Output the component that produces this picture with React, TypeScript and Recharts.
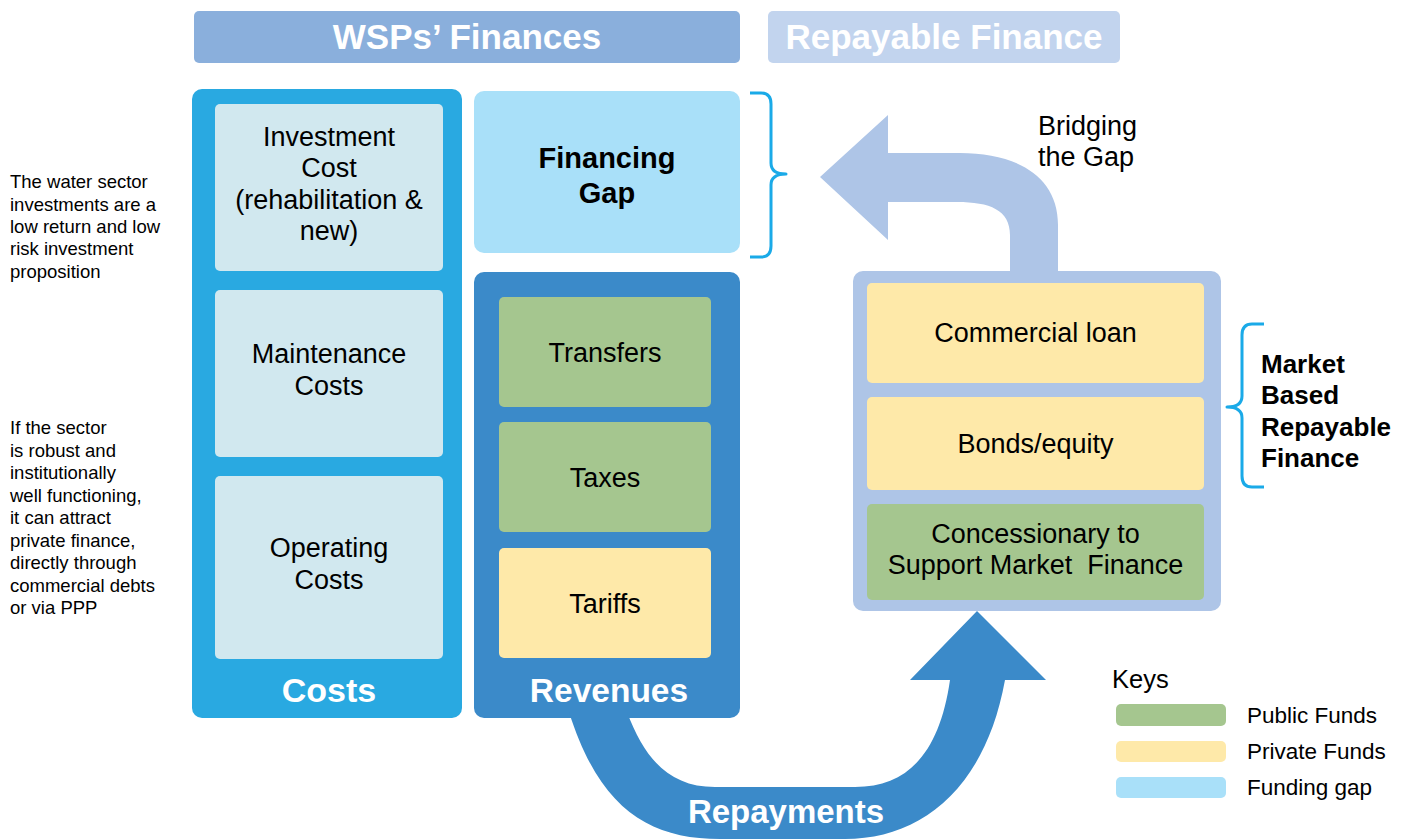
import React from 'react';
import { ComposedChart, XAxis, YAxis, ReferenceArea, Scatter } from 'recharts';

const W = 1406;
const H = 839;
const FONT = '"Liberation Sans", Arial, Helvetica, sans-serif';

// ---- texts ----
const headerTitles = ['WSPs’ Finances', 'Repayable Finance'];
const costItems = [
  ['Investment', 'Cost', '(rehabilitation &', 'new)'],
  ['Maintenance', 'Costs'],
  ['Operating', 'Costs'],
];
const revenueItems = [['Transfers'], ['Taxes'], ['Tariffs']];
const gapLabel = ['Financing', 'Gap'];
const repayableItems = [['Commercial loan'], ['Bonds/equity'], ['Concessionary to', 'Support Market  Finance']];
const marketLabel = ['Market', 'Based', 'Repayable', 'Finance'];
const bridgingLabel = ['Bridging', 'the Gap'];
const repaymentsLabel = 'Repayments';
const noteLowReturn = ['The water sector', 'investments are a', 'low return and low', 'risk investment', 'proposition'];
const noteRobust = [
  'If the sector',
  'is robust and',
  'institutionally',
  'well functioning,',
  'it can attract',
  'private finance,',
  'directly through',
  'commercial debts',
  'or via PPP',
];
const keyLabels = ['Public Funds', 'Private Funds', 'Funding gap'];

// ---- colours ----
const C = {
  header1: '#8aafdc',
  header2: '#c2d4ee',
  costs: '#29a9e1',
  costItem: '#d1e8ef',
  gap: '#a9e0f9',
  revenues: '#3b8ac9',
  green: '#a5c68f',
  yellow: '#fee9a9',
  repayable: '#aec5e7',
  brace: '#1aaae8',
};
const revenueFills = [C.green, C.green, C.yellow];
const repayableFills = [C.yellow, C.yellow, C.green];
const keyFills = [C.green, C.yellow, C.gap];

// ---- layout in diagram units [x1, x2, y1, y2] ----
const headerBoxes = [[194, 740, 11, 63], [768, 1120, 11, 63]];
const costsOuter = [192, 462, 89, 718];
const costBoxes = [[215, 443, 104, 271], [215, 443, 290, 457], [215, 443, 476, 659]];
const gapBox = [474, 740, 91, 253];
const revenuesOuter = [474, 740, 272, 718];
const revenueBoxes = [[499, 711, 297, 407], [499, 711, 422, 532], [499, 711, 548, 658]];
const repayableOuter = [853, 1221, 271, 611];
const repayableBoxes = [[867, 1204, 283, 383], [867, 1204, 397, 490], [867, 1204, 504, 600]];
const keySwatches = [[1116, 1226, 704, 726], [1116, 1226, 741, 762], [1116, 1226, 777, 798]];
const repaymentsAnchor = [{ x: 786, y: 811 }];

type Seg = [string, number[]];

// arrow outlines and braces (diagram units)
const repaymentArrow: Seg[] = [
  ['M', [569, 712]],
  ['C', [600, 810, 650, 839, 720, 839]],
  ['L', [845, 839]],
  ['C', [920, 839, 985, 790, 1005, 680]],
  ['L', [1046, 680]],
  ['L', [977, 611]],
  ['L', [910, 680]],
  ['L', [950, 680]],
  ['C', [940, 750, 910, 787, 855, 787]],
  ['L', [715, 787]],
  ['C', [670, 787, 645, 760, 627, 712]],
];
const bridgingArrow: Seg[] = [
  ['M', [1058, 276]],
  ['L', [1058, 225]],
  ['C', [1058, 175, 1015, 153, 960, 153]],
  ['L', [888, 153]],
  ['L', [888, 115]],
  ['L', [820, 177]],
  ['L', [888, 240]],
  ['L', [888, 202]],
  ['L', [957, 202]],
  ['C', [990, 202, 1010, 210, 1010, 235]],
  ['L', [1010, 276]],
];
const gapBrace: Seg[] = [
  ['M', [750, 93]],
  ['L', [761, 93]],
  ['Q', [771, 93, 771, 104]],
  ['L', [771, 163]],
  ['Q', [771, 174, 786, 174]],
  ['Q', [771, 174, 771, 185]],
  ['L', [771, 246]],
  ['Q', [771, 257, 761, 257]],
  ['L', [750, 257]],
];
const marketBrace: Seg[] = [
  ['M', [1264, 324]],
  ['L', [1252, 324]],
  ['Q', [1242, 324, 1242, 335]],
  ['L', [1242, 396]],
  ['Q', [1242, 407, 1227, 407]],
  ['Q', [1242, 407, 1242, 418]],
  ['L', [1242, 476]],
  ['Q', [1242, 487, 1252, 487]],
  ['L', [1264, 487]],
];

const toPoints = (segs: Seg[]) =>
  segs.flatMap(([, n]) => {
    const out: { x: number; y: number }[] = [];
    for (let i = 0; i < n.length; i += 2) out.push({ x: n[i], y: n[i + 1] });
    return out;
  });

const pathLine = (segs: Seg[], fill: string, stroke: string, sw: number, closed: boolean) => (props: any) => {
  const pts = props.points || [];
  let k = 0;
  let d = '';
  segs.forEach(([c, n]) => {
    const ps: string[] = [];
    for (let i = 0; i < n.length; i += 2) {
      const p = pts[k++];
      if (p) ps.push(`${p.x},${p.y}`);
    }
    d += c + ps.join(' ') + ' ';
  });
  if (closed) d += 'Z';
  return <path d={d} fill={fill} stroke={stroke} strokeWidth={sw} strokeLinejoin="round" />;
};

type TextOpts = { size: number; bold?: boolean; color?: string; anchor?: 'start' | 'middle'; lh: number; dy?: number };

const textBlock = (lines: string[], o: TextOpts) => (props: any) => {
  const { x, y, width, height } = props.viewBox;
  const anchor = o.anchor || 'middle';
  const cx = anchor === 'start' ? x : x + width / 2;
  const cy = y + height / 2 + (o.dy || 0);
  const top = cy - ((lines.length - 1) * o.lh) / 2 + o.size * 0.35;
  return (
    <text
      textAnchor={anchor}
      fontFamily={FONT}
      fontSize={o.size}
      fontWeight={o.bold ? 700 : 400}
      fill={o.color || '#000'}
      style={{ whiteSpace: 'pre' }}
    >
      {lines.map((l, i) => (
        <tspan key={i} x={cx} y={top + i * o.lh}>
          {l}
        </tspan>
      ))}
    </text>
  );
};

const box = (key: string, r: number[], fill: string, radius: number, label?: any) => (
  <ReferenceArea
    key={key}
    x1={r[0]}
    x2={r[1]}
    y1={r[2]}
    y2={r[3]}
    ifOverflow="visible"
    fill={fill}
    fillOpacity={1}
    stroke="none"
    shape={(p: any) => <rect x={p.x} y={p.y} width={p.width} height={p.height} rx={radius} ry={radius} fill={fill} />}
    label={label}
  />
);

const textArea = (key: string, r: number[], label: any) => (
  <ReferenceArea
    key={key}
    x1={r[0]}
    x2={r[1]}
    y1={r[2]}
    y2={r[3]}
    ifOverflow="visible"
    fillOpacity={0}
    stroke="none"
    shape={() => <g />}
    label={label}
  />
);

const pathSeries = (key: string, segs: Seg[], fill: string, stroke: string, sw: number, closed: boolean) => (
  <Scatter
    key={key}
    data={toPoints(segs)}
    isAnimationActive={false}
    shape={() => <g />}
    line={pathLine(segs, fill, stroke, sw, closed)}
    legendType="none"
  />
);

export default function App() {
  return (
    <div style={{ position: 'absolute', left: 0, top: 0, width: W, height: H, background: '#fff' }}>
      <ComposedChart width={W} height={H} margin={{ top: 0, right: 0, bottom: 0, left: 0 }}>
        <XAxis type="number" dataKey="x" domain={[0, W]} allowDataOverflow hide />
        <YAxis type="number" dataKey="y" domain={[0, H]} allowDataOverflow reversed hide />

        {pathSeries('repay', repaymentArrow, C.revenues, 'none', 0, true)}
        {pathSeries('bridge', bridgingArrow, C.repayable, 'none', 0, true)}
        {pathSeries('brace1', gapBrace, 'none', C.brace, 3, false)}
        {pathSeries('brace2', marketBrace, 'none', C.brace, 3, false)}
        <Scatter
          data={repaymentsAnchor}
          isAnimationActive={false}
          legendType="none"
          shape={(p: any) => (
            <text
              x={p.cx}
              y={p.cy + 33 * 0.35}
              textAnchor="middle"
              fontFamily={FONT}
              fontSize={33}
              fontWeight={700}
              fill="#fff"
            >
              {repaymentsLabel}
            </text>
          )}
        />

        {headerBoxes.map((r, i) =>
          box(`h${i}`, r, i === 0 ? C.header1 : C.header2, 5, textBlock([headerTitles[i]], { size: 35, bold: true, color: '#fff', lh: 40 }))
        )}

        {box('costs', costsOuter, C.costs, 10)}
        {costBoxes.map((r, i) => box(`c${i}`, r, C.costItem, 5, textBlock(costItems[i], { size: 27, lh: 31.3, dy: -4 })))}
        {textArea('costsLbl', [192, 466, 666, 714], textBlock(['Costs'], { size: 34, bold: true, color: '#fff', lh: 36 }))}

        {box('gap', gapBox, C.gap, 10, textBlock(gapLabel, { size: 29, bold: true, lh: 35, dy: 3 }))}

        {box('rev', revenuesOuter, C.revenues, 10)}
        {revenueBoxes.map((r, i) => box(`r${i}`, r, revenueFills[i], 5, textBlock(revenueItems[i], { size: 27, lh: 31, dy: 1 })))}
        {textArea('revLbl', [474, 744, 666, 714], textBlock(['Revenues'], { size: 33.5, bold: true, color: '#fff', lh: 36 }))}

        {box('repOuter', repayableOuter, C.repayable, 10)}
        {repayableBoxes.map((r, i) =>
          box(`p${i}`, r, repayableFills[i], 5, textBlock(repayableItems[i], { size: 27, lh: 31, dy: i === 2 ? -3 : 0 }))
        )}

        {textArea('market', [1261, 1400, 380, 442], textBlock(marketLabel, { size: 26, bold: true, lh: 31.3, anchor: 'start' }))}
        {textArea('bridging', [1038, 1200, 120, 163], textBlock(bridgingLabel, { size: 27, lh: 31, anchor: 'start' }))}
        {textArea('note1', [10, 180, 200, 253], textBlock(noteLowReturn, { size: 18.5, lh: 22.3, anchor: 'start' }))}
        {textArea('note2', [10, 180, 490, 546], textBlock(noteRobust, { size: 18.5, lh: 22.5, anchor: 'start' }))}

        {textArea('keys', [1112, 1200, 665, 693], textBlock(['Keys'], { size: 25.5, lh: 28, anchor: 'start' }))}
        {keySwatches.map((r, i) => box(`k${i}`, r, keyFills[i], 5))}
        {keySwatches.map((r, i) =>
          textArea(`kl${i}`, [1247, 1400, r[2], r[3]], textBlock([keyLabels[i]], { size: 22.5, lh: 24, anchor: 'start' }))
        )}
      </ComposedChart>
    </div>
  );
}
